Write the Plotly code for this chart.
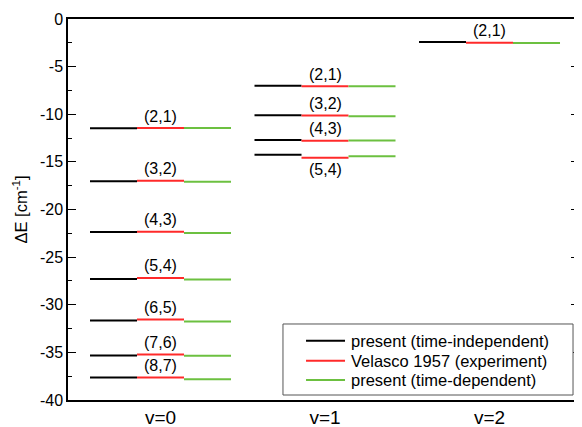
import plotly.graph_objects as go

# ---- data (cm^-1) ----
v_categories = ["v=0", "v=1", "v=2"]
v0_labels = ["(2,1)", "(3,2)", "(4,3)", "(5,4)", "(6,5)", "(7,6)", "(8,7)"]
v0_time_indep = [-11.48, -17.03, -22.35, -27.30, -31.65, -35.33, -37.64]
v0_velasco = [-11.45, -16.97, -22.33, -27.18, -31.56, -35.22, -37.64]
v0_time_dep = [-11.45, -17.09, -22.46, -27.35, -31.76, -35.35, -37.82]

v1_labels = ["(2,1)", "(3,2)", "(4,3)", "(5,4)"]
v1_time_indep = [-7.02, -10.10, -12.70, -14.25]
v1_velasco = [-7.06, -10.13, -12.79, -14.58]
v1_time_dep = [-7.06, -10.20, -12.76, -14.40]

v2_labels = ["(2,1)"]
v2_time_indep = [-2.41]
v2_velasco = [-2.49]
v2_time_dep = [-2.52]

y_tickvals = [0, -5, -10, -15, -20, -25, -30, -35, -40]
y_ticktext = ["0", "-5", "-10", "-15", "-20", "-25", "-30", "-35", "-40"]

series_names = ["present (time-independent)", "Velasco 1957 (experiment)",
                "present (time-dependent)"]
colors = ["#000000", "#ff2a2a", "#6cc040"]

groups = [
    (v0_labels, [v0_time_indep, v0_velasco, v0_time_dep]),
    (v1_labels, [v1_time_indep, v1_velasco, v1_time_dep]),
    (v2_labels, [v2_time_indep, v2_velasco, v2_time_dep]),
]
# labels placed below the line instead of above (v=1, (5,4))
below = {(1, "(5,4)")}

seg = 2.0 / 7.0
offsets = [(-1.5 * seg, -0.5 * seg), (-0.5 * seg, 0.5 * seg), (0.5 * seg, 1.5 * seg)]

FONT = "Liberation Sans, Arial, sans-serif"
fig = go.Figure()
for s in range(3):
    xs, ys = [], []
    for gi, (labels, sers) in enumerate(groups):
        for e in sers[s]:
            xs += [gi + offsets[s][0], gi + offsets[s][1], None]
            ys += [e, e, None]
    fig.add_trace(go.Scatter(x=xs, y=ys, mode="lines", name=series_names[s],
                             line=dict(color=colors[s], width=2),
                             hoverinfo="skip", showlegend=False))

for gi, (labels, sers) in enumerate(groups):
    for lab, e in zip(labels, sers[1]):
        sh = -12 if (gi, lab) in below else 12
        fig.add_annotation(x=gi, y=e, text=lab, showarrow=False, yshift=sh,
                           font=dict(size=16, color="black", family=FONT))

# ---- legend drawn as a boxed key in paper coordinates ----
box = dict(x0=0.4207, x1=0.9883, y0=0.0131, y1=0.1995)
key_x0, key_x1, text_x = 0.4658, 0.5421, 0.5499
row_y = [0.1556, 0.1031, 0.0525]
fig.add_shape(type="rect", xref="paper", yref="paper", **box,
              line=dict(color="#555", width=1), fillcolor="white", layer="above")
for s in range(3):
    fig.add_shape(type="line", xref="paper", yref="paper", x0=key_x0, x1=key_x1,
                  y0=row_y[s], y1=row_y[s], line=dict(color=colors[s], width=2),
                  layer="above")
    fig.add_annotation(xref="paper", yref="paper", x=text_x, y=row_y[s],
                       xanchor="left", yanchor="middle", text=series_names[s],
                       showarrow=False, font=dict(size=16.5, color="black", family=FONT))

fig.update_layout(
    width=574, height=427,
    margin=dict(l=60, r=3, t=11, b=35),
    paper_bgcolor="white", plot_bgcolor="white",
    font=dict(family=FONT, size=16, color="black"),
    showlegend=False,
    xaxis=dict(range=[-0.5623, 2.544], tickvals=[0, 1, 2], ticktext=v_categories,
               showline=True, linecolor="black", linewidth=1.5, mirror=True,
               ticks="", showgrid=False, zeroline=False, automargin=False,
               ticklabelstandoff=-1,
               tickfont=dict(size=19, family=FONT)),
    yaxis=dict(range=[-40, 0], tickvals=y_tickvals, ticktext=y_ticktext,
               ticks="inside", ticklen=8,
               tickwidth=1.2, tickcolor="black", automargin=False,
               showline=True, linecolor="black", linewidth=1.5, mirror="allticks",
               showgrid=False, zeroline=False,
               minor=dict(ticks="inside", ticklen=4, dtick=2.5, tick0=0,
                          tickcolor="black", tickwidth=1.2, showgrid=False),
               tickfont=dict(size=16, family=FONT),
               title=dict(text="ΔE [cm<sup>-1</sup>]", standoff=8,
                          font=dict(size=16.5, family=FONT))),
)

fig.write_html("out.html")
